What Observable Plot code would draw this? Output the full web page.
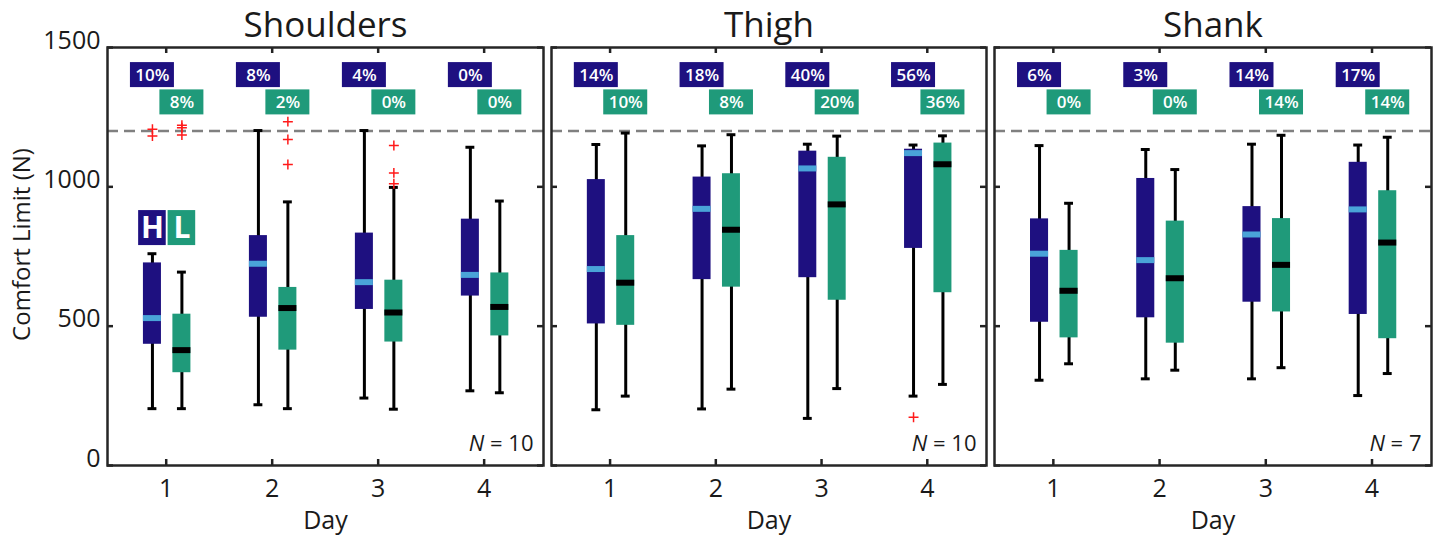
<!DOCTYPE html>
<html>
<head>
<meta charset="utf-8">
<script src="https://cdn.jsdelivr.net/npm/d3@7"></script>
<script src="https://cdn.jsdelivr.net/npm/@observablehq/plot@0.6"></script>
<style>
  body { margin: 0; background: #fff; }
  #chart { position: relative; width: 1436px; height: 538px; overflow: hidden; }
  #chart svg { position: absolute; top: 0; }
</style>
</head>
<body>
<div id="chart"></div>
<script>
// ---------------- data ----------------
const regions = ["Shoulders", "Thigh", "Shank"];
const days = [1, 2, 3, 4];
const groups = ["H", "L"];
const yTicks = [0, 500, 1000, 1500];
const comfortCap = 1200;
const sampleSizes = [10, 10, 7];

// each entry: [lower whisker, Q1, median, Q3, upper whisker] for days 1..4
const shouldersH = [[204, 435, 529, 727, 760], [218, 532, 724, 825, 1202], [242, 560, 658, 834, 1202], [268, 608, 684, 884, 1142]];
const shouldersL = [[204, 333, 414, 543, 694], [204, 414, 565, 639, 946], [202, 443, 549, 665, 998], [261, 465, 569, 691, 949]];
const thighH = [[200, 508, 705, 1026, 1152], [203, 667, 921, 1035, 1147], [169, 674, 1066, 1128, 1153], [249, 779, 1121, 1135, 1150]];
const thighL = [[249, 503, 656, 825, 1193], [274, 640, 846, 1047, 1187], [276, 593, 937, 1106, 1182], [291, 620, 1081, 1157, 1183]];
const shankH = [[306, 514, 760, 885, 1148], [311, 530, 737, 1030, 1134], [311, 586, 829, 929, 1153], [251, 542, 919, 1088, 1150]];
const shankL = [[365, 458, 627, 772, 941], [342, 439, 672, 877, 1062], [351, 551, 720, 886, 1185], [330, 455, 800, 986, 1178]];

// outliers: [day, value]
const shouldersOutH = [[1, 1207], [1, 1182]];
const shouldersOutL = [[1, 1221], [1, 1212], [1, 1186], [2, 1234], [2, 1170], [2, 1080], [3, 1148], [3, 1050], [3, 1011]];
const thighOutH = [[4, 173]];
const thighOutL = [];
const shankOutH = [];
const shankOutL = [];

// percentage labels (share above comfort cap) per day
const shouldersPctH = [10, 8, 4, 0];
const shouldersPctL = [8, 2, 0, 0];
const thighPctH = [14, 18, 40, 56];
const thighPctL = [10, 8, 20, 36];
const shankPctH = [6, 3, 14, 17];
const shankPctL = [0, 0, 14, 14];

const statsH = [shouldersH, thighH, shankH];
const statsL = [shouldersL, thighL, shankL];
const outH = [shouldersOutH, thighOutH, shankOutH];
const outL = [shouldersOutL, thighOutL, shankOutL];
const pctH = [shouldersPctH, thighPctH, shankPctH];
const pctL = [shouldersPctL, thighPctL, shankPctL];

// ---------------- styling / layout ----------------
const colors = {H: "#1e1080", L: "#1f9a7a"};
const medianColors = {H: "#4aa3d8", L: "#000000"};
const offsets = {H: -0.13, L: 0.148};
const boxHalf = 0.085, capHalf = 0.042;
const xDomain = [0.446, 4.56];
const yDomain = [0, 1500];
const H = 538, marginTop = 47, marginBottom = 73;
const innerH = H - marginTop - marginBottom;
const layout = [
  {left: 0, width: 546, marginLeft: 107, marginRight: 3},
  {left: 546, width: 444, marginLeft: 5, marginRight: 4},
  {left: 990, width: 446, marginLeft: 4, marginRight: 5}
];
const unitsPerPxY = (yDomain[1] - yDomain[0]) / innerH;

function panel(i) {
  const L = layout[i];
  const innerW = L.width - L.marginLeft - L.marginRight;
  const unitsPerPxX = (xDomain[1] - xDomain[0]) / innerW;
  const rows = [];
  for (const [g, stats] of [["H", statsH[i]], ["L", statsL[i]]])
    stats.forEach((s, k) => rows.push({group: g, pos: days[k] + offsets[g], lw: s[0], q1: s[1], med: s[2], q3: s[3], uw: s[4]}));
  const outs = [];
  for (const [g, arr] of [["H", outH[i]], ["L", outL[i]]])
    arr.forEach(([d, v]) => outs.push({pos: d + offsets[g], v}));
  const pct = [];
  for (const [g, arr, yc] of [["H", pctH[i], 1401], ["L", pctL[i], 1303]])
    arr.forEach((p, k) => pct.push({group: g, pos: days[k] + offsets[g], y: yc, label: p + "%"}));

  const lw = 22 * unitsPerPxX, lh = 12.5 * unitsPerPxY;
  const marks = [
    Plot.ruleY([comfortCap], {stroke: "#808080", strokeWidth: 2.5, strokeDasharray: "11,6"}),
    Plot.ruleX(rows, {x: "pos", y1: "lw", y2: "uw", stroke: "#000", strokeWidth: 3}),
    Plot.ruleY(rows, {y: "lw", x1: d => d.pos - capHalf, x2: d => d.pos + capHalf, stroke: "#000", strokeWidth: 3}),
    Plot.ruleY(rows, {y: "uw", x1: d => d.pos - capHalf, x2: d => d.pos + capHalf, stroke: "#000", strokeWidth: 3}),
    Plot.rect(rows, {x1: d => d.pos - boxHalf, x2: d => d.pos + boxHalf, y1: "q1", y2: "q3", fill: d => colors[d.group]}),
    Plot.ruleY(rows, {y: "med", x1: d => d.pos - boxHalf, x2: d => d.pos + boxHalf, stroke: d => medianColors[d.group], strokeWidth: 6}),
    Plot.dot(outs, {x: "pos", y: "v", symbol: "plus", r: 3.3, stroke: "#ff1a1a", strokeWidth: 1.5}),
    Plot.rect(pct, {x1: d => d.pos - lw, x2: d => d.pos + lw, y1: d => d.y - lh, y2: d => d.y + lh, fill: d => colors[d.group]}),
    Plot.text(pct, {x: "pos", y: "y", text: "label", fill: "white", fontSize: 17, fontWeight: 600}),
    // inward ticks on all four sides
    Plot.tickX(days, {x: d => d, insetTop: innerH - 6, stroke: "#222", strokeWidth: 2.5}),
    Plot.tickX(days, {x: d => d, insetBottom: innerH - 6, stroke: "#222", strokeWidth: 2.5}),
    Plot.tickY(yTicks, {y: d => d, insetRight: innerW - 6, stroke: "#222", strokeWidth: 2.5}),
    Plot.tickY(yTicks, {y: d => d, insetLeft: innerW - 6, stroke: "#222", strokeWidth: 2.5}),
    Plot.frame({stroke: "#262626", strokeWidth: 2.5}),
    Plot.axisX({ticks: days, tickSize: 0, tickPadding: 14, fontSize: 25, label: null, tickFormat: d => String(d)}),
    Plot.text([regions[i]], {frameAnchor: "top", lineAnchor: "middle", dy: -22, fontSize: 35}),
    Plot.text(["Day"], {frameAnchor: "bottom", lineAnchor: "middle", dy: 55, fontSize: 25}),
    Plot.text([`N = ${sampleSizes[i]}`], {frameAnchor: "bottom-right", lineAnchor: "middle", dx: -10, dy: -22, fontSize: 22, textAnchor: "end", className: "nlabel"})
  ];
  if (i === 0) {
    const legend = groups.map(g => ({group: g, pos: 1 + offsets[g], y: 852}));
    const bw = 13.8 * unitsPerPxX, bh = 17.5 * unitsPerPxY;
    marks.push(
      Plot.axisY({ticks: yTicks, tickSize: 0, tickPadding: 7, fontSize: 25, label: null, dy: -7, tickFormat: d => String(d)}),
      Plot.text(["Comfort Limit (N)"], {frameAnchor: "left", textAnchor: "middle", lineAnchor: "middle", dx: -85, dy: -12, rotate: -90, fontSize: 24}),
      Plot.rect(legend, {x1: d => d.pos - bw, x2: d => d.pos + bw, y1: d => d.y - bh, y2: d => d.y + bh, fill: d => colors[d.group]}),
      Plot.text(legend, {x: "pos", y: "y", text: "group", fill: "white", fontSize: 30, fontWeight: 700})
    );
  }
  const svg = Plot.plot({
    width: L.width, height: H,
    marginLeft: L.marginLeft, marginRight: L.marginRight, marginTop, marginBottom,
    x: {domain: xDomain, axis: null},
    y: {domain: yDomain, axis: null},
    color: {type: "identity"},
    style: {fontFamily: "'Open Sans', 'Noto Sans', sans-serif", fontSize: "25px", background: "transparent", color: "#1a1a1a"},
    marks
  });
  svg.style.left = L.left + "px";
  d3.select(svg).selectAll("g.nlabel text").each(function () {
    const t = this.textContent;
    const rest = t.slice(1);
    this.textContent = "";
    d3.select(this).append("tspan").attr("font-style", "italic").text("N");
    d3.select(this).append("tspan").text(rest);
  });
  return svg;
}

const chart = document.getElementById("chart");
regions.forEach((r, i) => chart.appendChild(panel(i)));
</script>
</body>
</html>
